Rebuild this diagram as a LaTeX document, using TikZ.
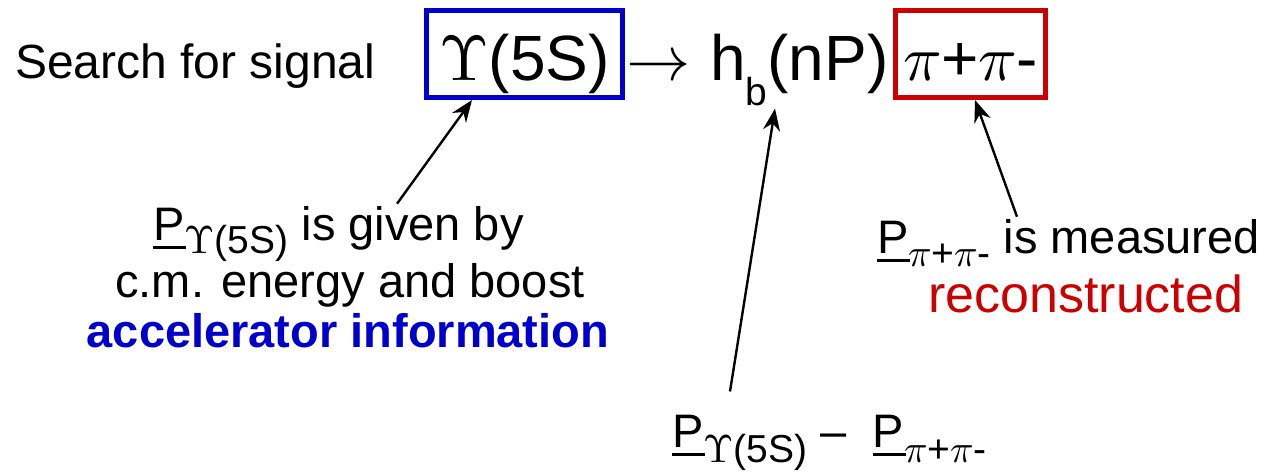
\documentclass[tikz,border=0pt]{standalone}
\usepackage{fontspec}
\usepackage{unicode-math}
\setmainfont{Liberation Sans}
\setmathfont{Latin Modern Math}
\usetikzlibrary{arrows.meta}

\definecolor{accblue}{RGB}{0,0,204}
\definecolor{recred}{RGB}{204,0,0}

\newcommand{\txtfont}{\fontsize{47}{56}\selectfont}
\newcommand{\bigfont}{\fontsize{64}{64}\selectfont}
\newcommand{\lowsub}[2]{\raisebox{-#1}{\fontsize{39}{39}\selectfont #2}}
\newcommand{\ulP}{\rlap{\rule[-9pt]{33pt}{3pt}}P}

\begin{document}
\begin{tikzpicture}[x=1pt,y=-1pt,
  txt/.style={font=\txtfont,inner sep=0pt,anchor=base west},
  bigbox/.style={draw=#1,line width=5pt,inner sep=0pt,text depth=17.5pt,
    text height=69.5pt,font=\bigfont,anchor=base},
  pointer/.style={-{Stealth[length=22pt,width=17pt]},line width=2.4pt}]
  \useasboundingbox (0,0) rectangle (1274,475);
  \node[txt,font=\fontsize{48}{56}\selectfont] (search) at (15,78) {Search for signal};
  \node[bigbox=accblue,minimum width=196pt] (ups) at (524.5,80) {$\Upsilon$(5S)};
  \node[txt,font=\bigfont,anchor=base] (to) at (658,80) {$\rightarrow$};
  \node[txt,font=\bigfont] (hb) at (710,80) {h\lowsub{25pt}{b}(nP)};
  \node[bigbox=recred,minimum width=150pt] (pipi) at (970.5,80) {$\pi$+$\pi$-};
  % what is known
  \node[txt] (given) at (153,240) {\ulP\lowsub{13pt}{$\Upsilon$(5S)} is given by};
  \node[txt,anchor=base] (boost) at (350,297) {c.m. energy and boost};
  \node[txt,anchor=base,text=accblue,font=\txtfont\bfseries] (acc) at (348,347) {accelerator information};
  \node[txt] (meas) at (877,253) {\ulP\lowsub{13pt}{$\pi$+$\pi$-} is measured};
  \node[txt,text=recred,font=\fontsize{52}{56}\selectfont] (rec) at (928,312) {reconstructed};
  \node[txt] (diff) at (672,447) {\ulP\lowsub{15pt}{$\Upsilon$(5S)} --\hspace{26pt}\ulP\lowsub{15pt}{$\pi$+$\pi$-}};
  % pointers
  \draw[pointer] ([xshift=244pt,yshift=2pt]given.north west) -- ([xshift=48pt]ups.south west);
  \draw[pointer] ([xshift=58pt,yshift=23pt]diff.north west) -- ([xshift=65pt,yshift=-3pt]hb.south west);
  \draw[pointer] ([xshift=140pt,yshift=2pt]meas.north west) -- ([xshift=82pt]pipi.south west);
\end{tikzpicture}
\end{document}
